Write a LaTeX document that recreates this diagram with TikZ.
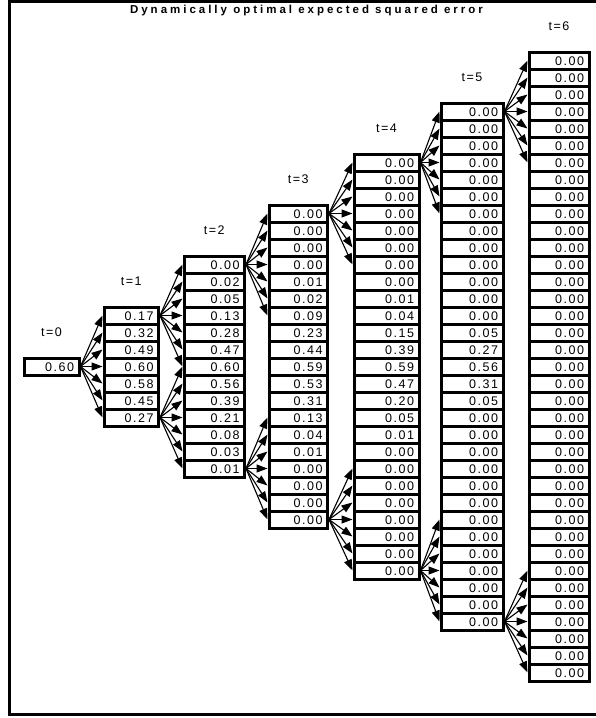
\documentclass[tikz,border=0pt]{standalone}
\usepackage{fontspec}
\setmainfont{Liberation Sans}
\newfontfamily\cellfont[LetterSpace=12]{Liberation Sans}
\newfontfamily\titlefont[LetterSpace=26]{Liberation Sans}
\usetikzlibrary{arrows.meta}
\newcommand{\tcol}[4]{%
  \pgfmathsetmacro{\colN}{6*#1+1}%
  \pgfmathsetmacro{\colTop}{366.5-\colN*8.5}%
  \pgfmathsetmacro{\colX}{(#2+#3)/2}%
  \pgfmathsetmacro{\colW}{#3-#2}%
  \pgfmathsetmacro{\colTW}{#3-#2-10}%
  \node[tlabel] (lab#1) at (\colX,\colTop-25.5) {t=#1};
  \foreach \v [count=\i from 0] in {#4} {
    \node[cell, minimum width=\colW pt, text width=\colTW pt] (c#1-\i) at (\colX,\colTop+\i*17+8.5) {\v};
  }
}
\begin{document}
\begin{tikzpicture}[x=1pt,y=-1pt,
  cell/.style={draw, line width=3pt, inner sep=0pt, minimum height=17pt,
    font=\cellfont\fontsize{12.5}{12.5}\selectfont, text height=9pt, text depth=0pt, align=right},
  tlabel/.style={font=\cellfont\fontsize{12.5}{12.5}\selectfont, inner sep=0pt},
  arr/.style={line width=1.1pt, -{Triangle[length=11pt,width=8pt]}},
  frame/.style={line width=3.2pt}]
\useasboundingbox (0,0) rectangle (596,718);
\draw[frame] (598,1.2) -- (9.5,1.2) -- (9.5,714.5) -- (598,714.5);
\node[font=\titlefont\bfseries\fontsize{11.5}{11.5}\selectfont, inner sep=0pt] (title) at (306.5,11) {Dynamically optimal expected squared error};
\tcol{0}{24}{79}{0.60}
\tcol{1}{104}{158.5}{0.17,0.32,0.49,0.60,0.58,0.45,0.27}
\tcol{2}{184}{244.5}{0.00,0.02,0.05,0.13,0.28,0.47,0.60,0.56,0.39,0.21,0.08,0.03,0.01}
\tcol{3}{269}{327.5}{0.00,0.00,0.00,0.00,0.01,0.02,0.09,0.23,0.44,0.59,0.53,0.31,0.13,0.04,0.01,0.00,0.00,0.00,0.00}
\tcol{4}{354}{419}{0.00,0.00,0.00,0.00,0.00,0.00,0.00,0.00,0.01,0.04,0.15,0.39,0.59,0.47,0.20,0.05,0.01,0.00,0.00,0.00,0.00,0.00,0.00,0.00,0.00}
\tcol{5}{441}{503}{0.00,0.00,0.00,0.00,0.00,0.00,0.00,0.00,0.00,0.00,0.00,0.00,0.00,0.05,0.27,0.56,0.31,0.05,0.00,0.00,0.00,0.00,0.00,0.00,0.00,0.00,0.00,0.00,0.00,0.00,0.00}
\tcol{6}{529}{589}{0.00,0.00,0.00,0.00,0.00,0.00,0.00,0.00,0.00,0.00,0.00,0.00,0.00,0.00,0.00,0.00,0.00,0.00,0.00,0.00,0.00,0.00,0.00,0.00,0.00,0.00,0.00,0.00,0.00,0.00,0.00,0.00,0.00,0.00,0.00,0.00,0.00}
\foreach \t in {0,...,5} {
  \pgfmathtruncatemacro{\nt}{\t+1}
  \pgfmathtruncatemacro{\last}{6*\t}
  \foreach \j in {0,...,6} {
    \pgfmathtruncatemacro{\k}{\last+\j}
    \draw[arr] (c\t-0.east) -- (c\nt-\j.west);
    \ifnum\t>0
      \draw[arr] (c\t-\last.east) -- (c\nt-\k.west);
    \fi
  }
}
\end{tikzpicture}
\end{document}
